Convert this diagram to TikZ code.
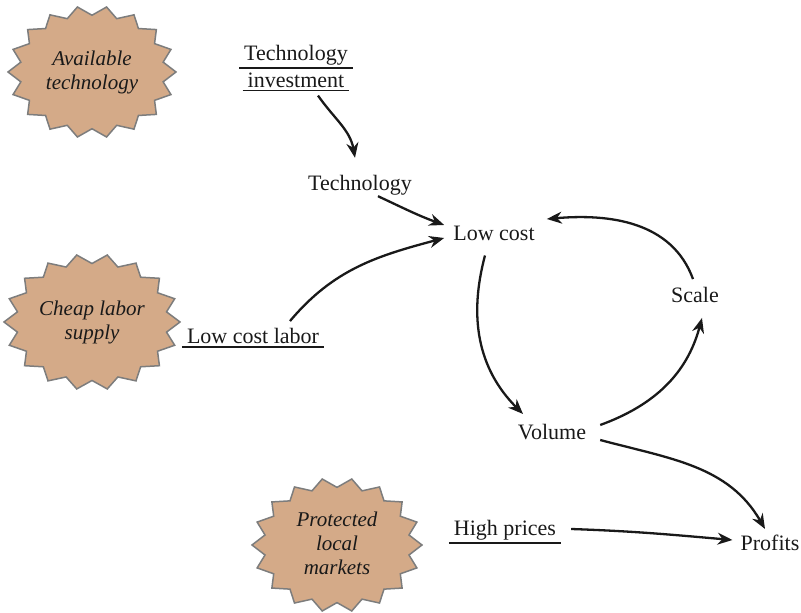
\documentclass[tikz,border=0pt]{standalone}
\usepackage{fontspec}
\setmainfont{Liberation Serif}
\usetikzlibrary{arrows.meta}
\definecolor{burstfill}{RGB}{212,170,136}
\definecolor{burstline}{RGB}{125,125,125}
\definecolor{ink}{RGB}{25,25,25}
\tikzset{
 lbl/.style={font=\fontsize{22}{24}\selectfont, text=ink, inner sep=1pt},
 ulbl/.style={lbl, inner xsep=5pt, inner ysep=3pt},
 exo/.style={font=\fontsize{21}{24}\selectfont\itshape, text=ink, align=center},
 arr/.style={draw=ink, line width=2.3pt, -{Stealth[length=15pt,width=12pt]}},
 uline/.style={draw=ink, line width=1.8pt},
 burst/.style={fill=burstfill, draw=burstline, line width=1.5pt, line join=miter},
}
\newcommand{\burst}[4]{%
  \filldraw[burst] plot[samples=37, domain=0:36, variable=\k]
    ({#1+#3*(1-0.14*mod(round(\k),2))*cos(\k*10)},{#2+#4*(1-0.14*mod(round(\k),2))*sin(\k*10)}) -- cycle;}
\begin{document}
\begin{tikzpicture}[x=1pt,y=1pt]
\useasboundingbox (0,0) rectangle (801,613);
% exogenous starbursts
\burst{92}{541}{84}{66}
\node[exo] (avail) at (92,541) {Available\\technology};
\burst{92}{291}{88}{68}
\node[exo] (cheap) at (92,291) {Cheap labor\\supply};
\burst{337}{68}{85}{67}
\node[exo] (prot) at (337,70) {Protected\\local\\markets};
% labels
\node[ulbl] (ti1) at (296,558) {Technology};
\node[ulbl] (ti2) at (296,533) {investment};
\draw[uline] (ti1.south west) -- (ti1.south east);
\draw[uline] (ti2.south west) -- (ti2.south east);
\node[lbl] (tech) at (360,428) {Technology};
\node[lbl] (lc) at (494,380) {Low cost};
\node[lbl] (scale) at (695,318) {Scale};
\node[lbl] (vol) at (552,181) {Volume};
\node[ulbl] (lcl) at (253,277) {Low cost labor};
\draw[uline] (lcl.south west) -- (lcl.south east);
\node[ulbl] (hp) at (505,83) {High prices};
\draw[uline] (hp.south west) -- (hp.south east);
\node[lbl] (prof) at (770,70) {Profits};
% connectors
\draw[arr] ([xshift=22pt,yshift=-5pt]ti2.south) to[out=-55,in=100] ([xshift=-5pt,yshift=16pt]tech.north);
\draw[arr] ([xshift=18pt,yshift=0pt]tech.south) to[out=-25,in=160] ([xshift=-8pt,yshift=8pt]lc.west);
\draw[arr] ([xshift=37pt,yshift=4pt]lcl.north) to[out=50,in=195] ([xshift=-8pt,yshift=-5pt]lc.west);
\draw[arr] ([xshift=-9pt,yshift=-14pt]lc.south) to[out=-105,in=135] ([xshift=-29pt,yshift=9pt]vol.north);
\draw[arr] ([xshift=13pt,yshift=7pt]vol.east) to[out=20,in=-105] ([xshift=7pt,yshift=-14pt]scale.south);
\draw[arr] ([xshift=-2pt,yshift=7pt]scale.north) to[out=110,in=5] ([xshift=11pt,yshift=14pt]lc.east);
\draw[arr] ([xshift=13pt,yshift=-8pt]vol.east) to[out=-15,in=120] ([xshift=-5pt,yshift=5pt]prof.north);
\draw[arr] ([xshift=10pt,yshift=1pt]hp.east) to[out=-2,in=175] ([xshift=-7pt,yshift=3pt]prof.west);
\end{tikzpicture}
\end{document}
